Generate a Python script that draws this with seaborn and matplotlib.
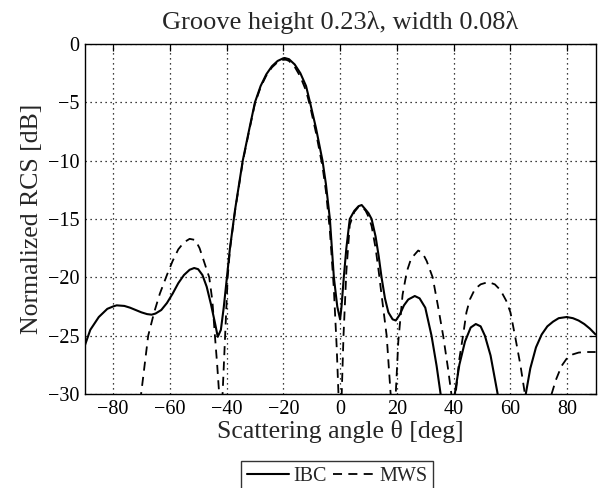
import numpy as np
import pandas as pd
import seaborn as sns
from matplotlib import pyplot as plt

# IBC curve (solid)
theta_ibc = [-90, -88, -85, -82, -80, -78.7, -76, -74, -72, -70, -68, -66.4, -65, -63, -61,
             -59, -57, -55, -53, -51.4, -50, -48.5, -47, -45.5, -44, -43.1, -42, -41, -40,
             -38.8, -37, -34.3, -32, -30, -28, -26, -24, -22, -20, -19.5, -18, -16, -14,
             -12, -10.6, -8.5, -6.2, -5, -3.6, -2.2, -1, 0, 0.5, 1.3, 2.2, 3.4, 5, 6.5,
             7.6, 9, 10, 11.1, 12.5, 13.6, 14.6, 15.8, 17, 18.5, 19.6, 21, 22.5, 24, 26.3,
             28, 30, 32.2, 34, 35.4, 38, 40.4, 42, 44, 46, 47.8, 49.5, 51, 53, 55.5, 60,
             65.4, 67, 69, 71, 73, 75, 77, 79.8, 82, 84, 86, 88, 90]
rcs_ibc = [-25.9, -24.5, -23.4, -22.7, -22.5, -22.4, -22.45, -22.6, -22.8, -23.0, -23.15, -23.2,
           -23.1, -22.8, -22.2, -21.4, -20.5, -19.8, -19.35, -19.2, -19.3, -19.8, -20.8,
           -22.3, -24.0, -25.1, -24.5, -22.6, -20.3, -17.5, -14.2, -10.0, -7.3, -5.0, -3.6,
           -2.6, -1.9, -1.45, -1.22, -1.2, -1.3, -1.75, -2.5, -3.6, -5.0, -7.2, -10.0,
           -12.0, -15.0, -20.0, -22.5, -23.6, -22.5, -20.0, -17.5, -15.0, -14.3, -13.9,
           -13.8, -14.2, -14.5, -15.0, -16.5, -18.2, -20.0, -21.8, -23.0, -23.6, -23.7,
           -23.2, -22.4, -21.9, -21.6, -21.8, -22.6, -25.0, -27.6, -30.0, -34.0, -30.0,
           -27.5, -25.5, -24.3, -24.0, -24.2, -25.0, -26.7, -30.0, -36.0, -30.0, -27.8,
           -26.0, -24.9, -24.2, -23.8, -23.5, -23.4, -23.5, -23.7, -24.0, -24.4, -24.9]

# MWS curve (dashed)
theta_mws = [-90, -80, -74, -70.1, -67.6, -65.5, -63.5, -61, -59, -57, -55, -53, -51, -49.5,
             -48, -46.1, -45, -44.1, -43.3, -42.6, -42, -41.4, -40.5, -39.6, -38.8, -37,
             -34.3, -32, -30, -28, -26, -24, -22, -20, -19, -18, -16, -14, -12, -10.6,
             -8.5, -6.2, -5, -3.6, -2.2, -1.2, -0.5, 0, 0.5, 1.2, 2.2, 3.4, 5, 6.5, 7.6,
             9, 10, 11.1, 12.5, 13.6, 14.6, 16.4, 17.8, 18.7, 19.6, 20.5, 22, 23.5, 25,
             27.5, 29, 30.5, 32.6, 34.5, 36.3, 38, 39.2, 40, 40.7, 42, 43.3, 44.5, 45.7,
             47.5, 49.5, 52.2, 54.5, 56.5, 58.5, 60, 61.6, 63.5, 65.1, 70, 74.5, 76, 78,
             80, 82, 84, 86, 88, 90]
rcs_mws = [-45, -38, -33, -30, -25, -23, -21.4, -19.8, -18.6, -17.6, -17.0, -16.7, -16.8,
           -17.5, -18.6, -20.0, -22.0, -25.0, -27.5, -30.0, -33.0, -30.0, -25.0, -20.0,
           -17.6, -14.3, -10.1, -7.4, -5.1, -3.7, -2.7, -2.0, -1.55, -1.35, -1.35, -1.45,
           -1.95, -2.8, -4.0, -5.3, -7.6, -10.5, -12.6, -16.0, -21.0, -26.0, -30.5, -33.0,
           -30.5, -25.0, -19.5, -15.5, -14.4, -13.95, -13.9, -14.3, -14.8, -15.6, -17.5,
           -19.5, -21.5, -25.0, -30.0, -33.0, -30.0, -25.5, -21.5, -19.5, -18.4, -17.7,
           -17.9, -18.6, -20.0, -22.5, -25.0, -27.8, -30.0, -33.0, -30.0, -27.0, -25.0,
           -23.0, -21.9, -21.0, -20.6, -20.4, -20.6, -21.1, -22.0, -23.0, -25.0, -27.5,
           -30.0, -38.0, -30.0, -28.8, -27.6, -26.9, -26.6, -26.45, -26.4, -26.4, -26.4]

xticks = [-80, -60, -40, -20, 0, 20, 40, 60, 80]
yticks = [0, -5, -10, -15, -20, -25, -30]

dfi = pd.DataFrame({'theta': theta_ibc, 'rcs': rcs_ibc})
dfm = pd.DataFrame({'theta': theta_mws, 'rcs': rcs_mws})

sns.set_style("white")
plt.rcParams['font.family'] = ['Liberation Serif', 'DejaVu Serif']
plt.rcParams['axes.unicode_minus'] = True

fig = plt.figure(figsize=(6.1, 4.88), dpi=100)
ax = fig.add_axes([0.1387, 0.1926, 0.8377, 0.7172])

sns.lineplot(data=dfi, x='theta', y='rcs', ax=ax, color='k', linewidth=1.5,
             label='IBC', sort=False)
sns.lineplot(data=dfm, x='theta', y='rcs', ax=ax, color='k', linewidth=1.3,
             linestyle=(0, (5, 3.5)), label='MWS', sort=False)

ax.set_xlim(-90, 90)
ax.set_ylim(-30, 0)
ax.set_xticks(xticks)
ax.set_yticks(yticks)
ax.grid(True, color='k', linestyle=(0, (1, 3)), linewidth=0.9)
ax.tick_params(direction='in', length=5, top=True, right=True, labelsize=14.5,
               colors='k', width=0.9, pad=4)
for s in ax.spines.values():
    s.set_color('k')
    s.set_linewidth(1.0)

ax.set_title("Groove height 0.23\u03bb, width 0.08\u03bb", fontsize=19, pad=11)
ax.set_xlabel("Scattering angle \u03b8 [deg]", fontsize=18.5, labelpad=1)
ax.set_ylabel("Normalized RCS [dB]", fontsize=18.5, labelpad=3)

ax.legend_.remove()
h, l = ax.get_legend_handles_labels()
leg = fig.legend(h, l, loc='upper center', bbox_to_anchor=(0.5525, 1 - 460.5 / 488),
                 ncol=2, fontsize=14.5, frameon=True, fancybox=False,
                 edgecolor='k', handlelength=2.1, columnspacing=0.3,
                 handletextpad=0.2, borderpad=0.3, borderaxespad=0)
leg.get_frame().set_linewidth(1.0)

plt.savefig("out.png", dpi=100)
